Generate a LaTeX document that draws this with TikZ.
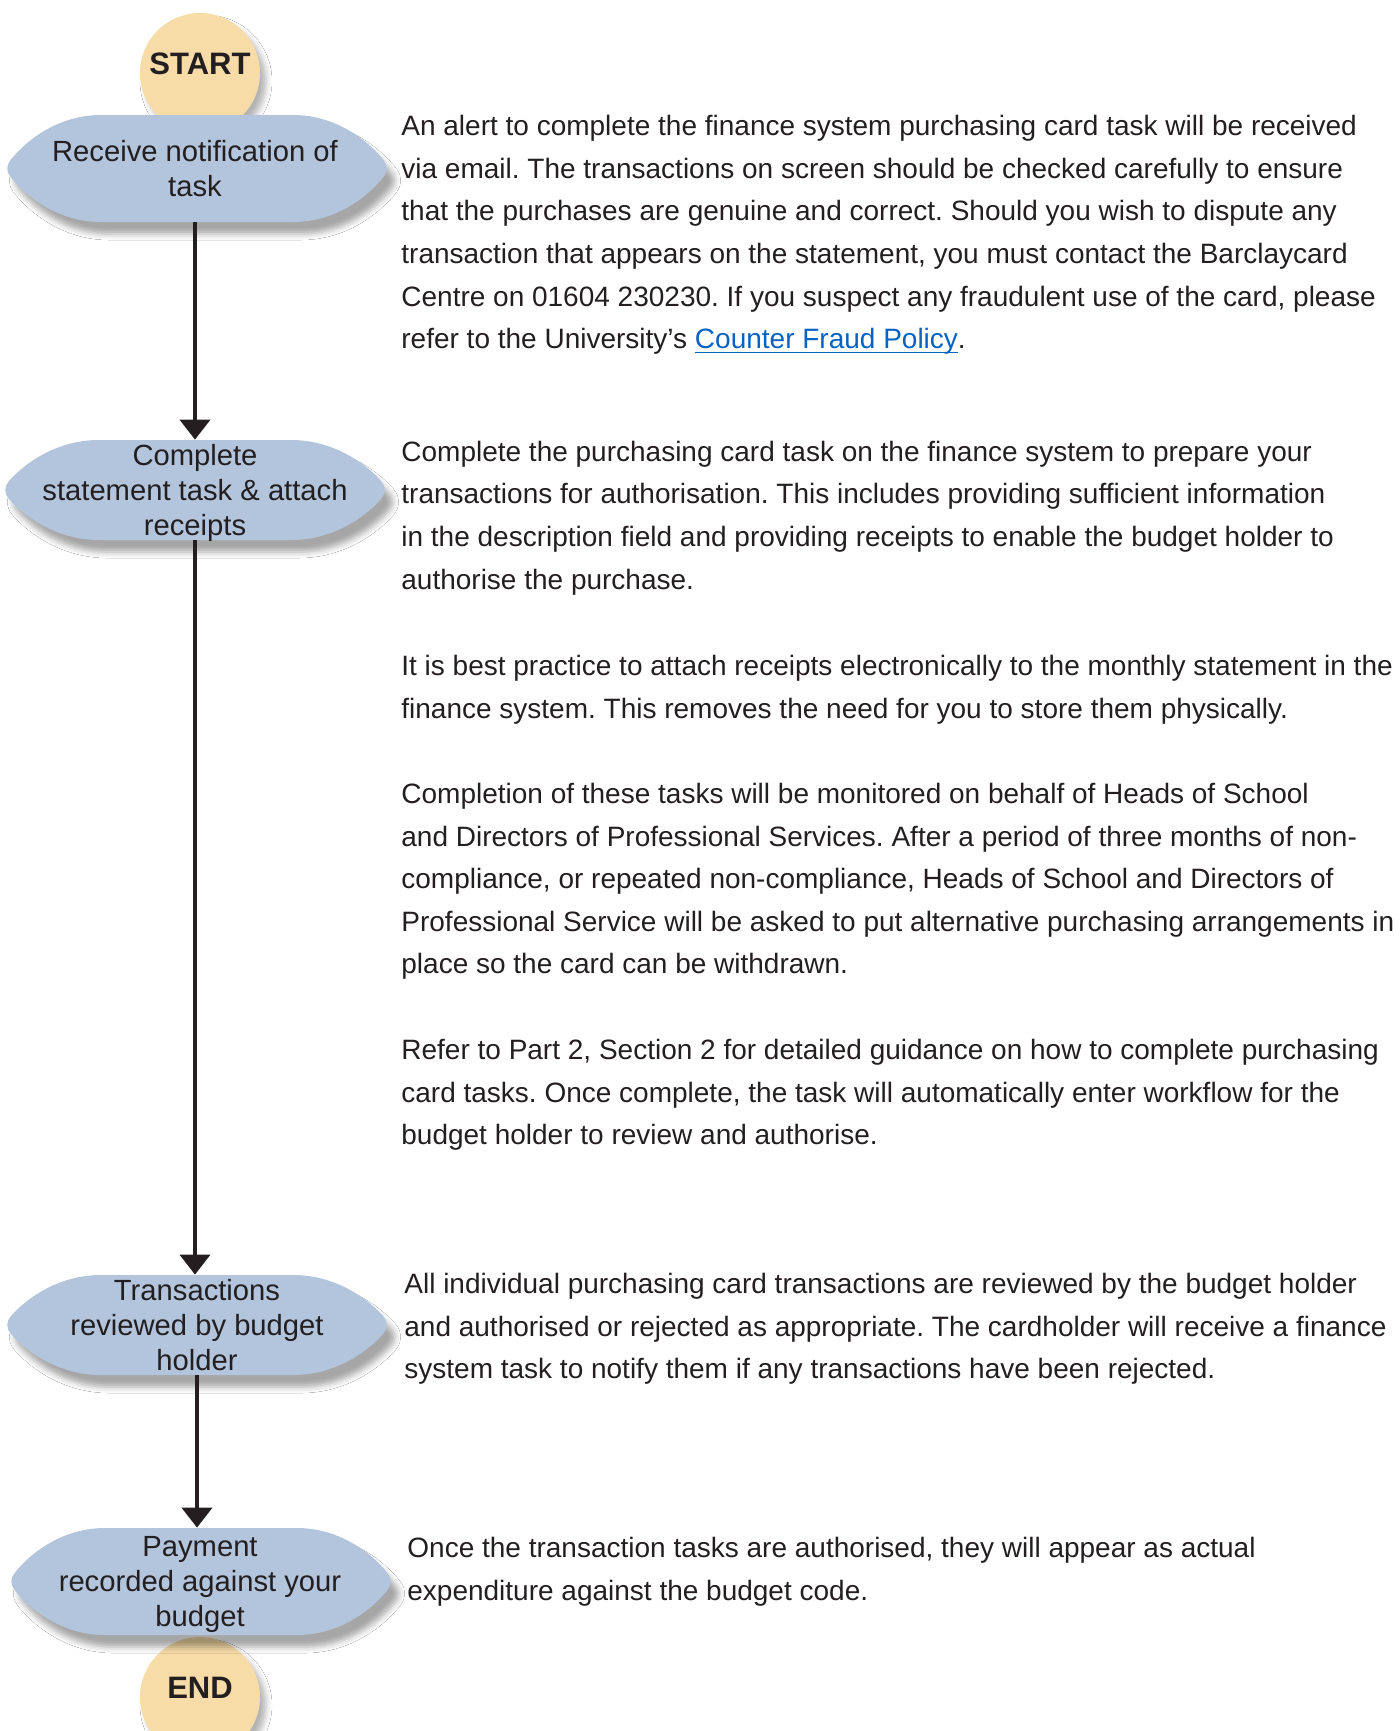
\documentclass[tikz,border=0pt]{standalone}
\usepackage{fontspec}
\setmainfont{Liberation Sans}
\usetikzlibrary{arrows.meta, shadows.blur}

\definecolor{ink}{HTML}{231F20}
\definecolor{stepblue}{HTML}{B3C5DC}
\definecolor{termtan}{HTML}{F7DCA8}
\definecolor{link}{HTML}{0563C1}

\frenchspacing
\newcommand{\linkline}[1]{\setbox0\hbox{#1}\rlap{\rule[-2.4pt]{\wd0}{0.8pt}}\box0}

% soft hexagon behind each step: centre x, centre y, half height
\newcommand{\hexshape}[3]{\path[hexstep] (#1-96,#2-#3) -- (#1+96,#2-#3)
  .. controls (#1+140,#2-#3) and (#1+172,#2-0.5*#3) .. (#1+186,#2-9)
  .. controls (#1+191,#2-2.7) and (#1+191,#2+2.7) .. (#1+186,#2+9)
  .. controls (#1+172,#2+0.5*#3) and (#1+140,#2+#3) .. (#1+96,#2+#3) -- (#1-96,#2+#3)
  .. controls (#1-140,#2+#3) and (#1-172,#2+0.5*#3) .. (#1-186,#2+9)
  .. controls (#1-191,#2+2.7) and (#1-191,#2-2.7) .. (#1-186,#2-9)
  .. controls (#1-172,#2-0.5*#3) and (#1-140,#2-#3) .. cycle;}

\tikzset{
  hexstep/.style={fill=stepblue, blur shadow={shadow xshift=4pt, shadow yshift=-6pt, shadow blur radius=3pt, shadow opacity=35}},
  steptext/.style={inner sep=0, minimum width=190pt, align=center, text=ink, text depth=-0.5pt, font=\fontsize{14.6}{17.5}\selectfont},
  terminal/.style={circle, fill=termtan, minimum size=60pt, inner sep=0, text=ink, text depth=9pt, font=\bfseries\fontsize{15.5}{18}\selectfont, blur shadow={shadow xshift=3pt, shadow yshift=-4pt, shadow blur radius=3pt, shadow opacity=30}},
  para/.style={anchor=north west, inner sep=0, align=left, text=ink, font=\fontsize{14}{21.3}\selectfont},
  flowarrow/.style={draw=ink, line width=2pt, -{Triangle[width=15pt, length=10pt]}}
}

\begin{document}
\begin{tikzpicture}[x=0.5pt, y=-0.5pt]
\useasboundingbox [fill=white] (0,0) rectangle (1400,1731);

% start and end
\node [terminal] (start) at (200,73) {START};
\node [terminal] (finish) at (200,1697) {END};

% steps
\hexshape{197}{168.5}{53.5}
\node [steptext, minimum height=53.5pt] (notify) at (195,168.5) {Receive notification of\\task};
\hexshape{195}{490}{50}
\node [steptext, minimum height=50pt] (attach) at (195,490) {Complete\\statement task \& attach\\receipts};
\hexshape{197}{1325}{50}
\node [steptext, minimum height=50pt] (review) at (197,1325) {Transactions\\reviewed by budget\\holder};
\hexshape{201}{1581.5}{53.5}
\node [steptext, minimum height=53.5pt] (payment) at (200,1581.5) {Payment\\recorded against your\\budget};

\draw [flowarrow] (notify) -- (notify |- attach.north);
\draw [flowarrow] (attach) -- (attach |- review.north);
\draw [flowarrow] (review) -- (review |- payment.north);

% notes
\node [para] (alertText) at (401,115) {An alert to complete the finance system purchasing card task will be received\\via email. The transactions on screen should be checked carefully to ensure\\that the purchases are genuine and correct. Should you wish to dispute any\\transaction that appears on the statement, you must contact the Barclaycard\\Centre on 01604 230230. If you suspect any fraudulent use of the card, please\\refer to the University’s \textcolor{link}{\linkline{Counter Fraud Policy}}.};
\node [para] (taskText) at (401,440.5) {Complete the purchasing card task on the finance system to prepare your\\transactions for authorisation. This includes providing sufficient information\\in the description field and providing receipts to enable the budget holder to\\authorise the purchase.};
\node [para] (receiptText) at (401,654.7) {It is best practice to attach receipts electronically to the monthly statement in the\\finance system. This removes the need for you to store them physically.};
\node [para] (monitorText) at (401,782.8) {Completion of these tasks will be monitored on behalf of Heads of School\\and Directors of Professional Services. After a period of three months of non-\\compliance, or repeated non-compliance, Heads of School and Directors of\\Professional Service will be asked to put alternative purchasing arrangements in\\place so the card can be withdrawn.};
\node [para] (guideText) at (401,1039) {Refer to Part 2, Section 2 for detailed guidance on how to complete purchasing\\card tasks. Once complete, the task will automatically enter workflow for the\\budget holder to review and authorise.};
\node [para] (reviewText) at (404,1273) {All individual purchasing card transactions are reviewed by the budget holder\\and authorised or rejected as appropriate. The cardholder will receive a finance\\system task to notify them if any transactions have been rejected.};
\node [para] (paymentText) at (407,1537) {Once the transaction tasks are authorised, they will appear as actual\\expenditure against the budget code.};
\end{tikzpicture}
\end{document}
